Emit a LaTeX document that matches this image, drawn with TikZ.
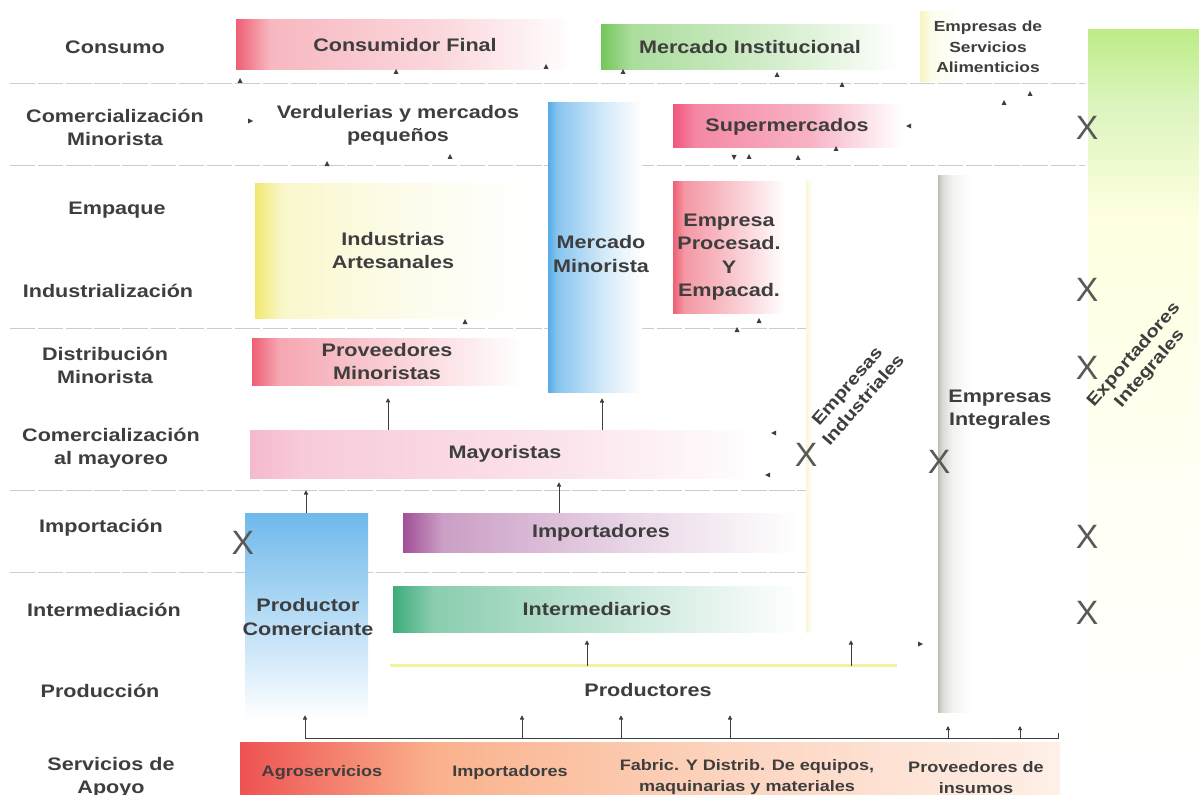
\documentclass[tikz,border=0pt]{standalone}
\usepackage{fontspec}
\setmainfont{Liberation Sans}[FakeStretch=1.19]
\newfontfamily\crossfont{Liberation Sans}
\usetikzlibrary{arrows.meta}

\definecolor{txt}{RGB}{62,62,62}
\definecolor{cRed}{RGB}{238,95,115}
\definecolor{cPink}{RGB}{240,85,125}
\definecolor{cGreen}{RGB}{115,198,90}
\definecolor{cYel}{RGB}{240,232,110}
\definecolor{cBlue}{RGB}{85,172,232}
\definecolor{cPurp}{RGB}{160,80,150}
\definecolor{cTeal}{RGB}{60,172,122}
\definecolor{cMay}{RGB}{245,185,205}
\definecolor{cApoyo}{RGB}{238,82,82}
\definecolor{cPeach}{RGB}{250,178,140}
\definecolor{cGray}{RGB}{175,175,162}
\definecolor{cExp}{RGB}{190,236,135}
\definecolor{cLine}{RGB}{242,242,160}

% fades from a strong left edge to white
\newcommand{\bandshade}[4]{%
  \pgfdeclarehorizontalshading{#1}{100bp}{color(0bp)=(#2); color(25bp)=(#2);
    color(30bp)=(#2!#3!white); color(55bp)=(#2!#4!white);
    color(75bp)=(white); color(100bp)=(white)}}
\bandshade{shconsfin}{cRed}{45}{25}
\bandshade{shmercinst}{cGreen}{60}{30}
\bandshade{shsupmer}{cPink}{70}{45}
\bandshade{shmercmin}{cBlue}{70}{25}
\bandshade{shindart}{cYel}{35}{12}
\bandshade{shempproc}{cRed}{65}{30}
\bandshade{shprovmin}{cRed}{55}{25}
\bandshade{shmayo}{cMay}{75}{40}
\bandshade{shimpo}{cPurp}{55}{22}
\bandshade{shinterm}{cTeal}{60}{25}
\pgfdeclarehorizontalshading{shservalim}{100bp}{color(0bp)=(cYel); color(25bp)=(cYel!45!white);
  color(29bp)=(cYel!15!white); color(40bp)=(white); color(100bp)=(white)}
\pgfdeclarehorizontalshading{shapoyo}{100bp}{color(0bp)=(cApoyo); color(25bp)=(cApoyo);
  color(37bp)=(cPeach); color(55bp)=(cPeach!55!white); color(75bp)=(cPeach!20!white);
  color(100bp)=(cPeach!20!white)}
\pgfdeclarehorizontalshading{shempint}{100bp}{color(0bp)=(cGray); color(25bp)=(cGray!80!white);
  color(26.5bp)=(cGray!45!white); color(30bp)=(cGray!15!white); color(36bp)=(white);
  color(100bp)=(white)}
\pgfdeclarehorizontalshading{shempind}{100bp}{color(0bp)=(cYel); color(25bp)=(cYel!30!white);
  color(26.5bp)=(cYel!10!white); color(28bp)=(white); color(100bp)=(white)}
\pgfdeclareverticalshading{shexport}{100bp}{color(0bp)=(white); color(25bp)=(white);
  color(45bp)=(yellow!5!white); color(62bp)=(yellow!12!white); color(70bp)=(cExp!55!white);
  color(75bp)=(cExp); color(100bp)=(cExp)}

\tikzset{
  lbl/.style={align=center, text=txt, font=\bfseries\fontsize{12.9}{16.4}\selectfont},
  small/.style={align=center, text=txt, font=\bfseries\fontsize{10.8}{15}\selectfont},
  slant/.style={align=center, text=txt, rotate=49, font=\bfseries\fontsize{12.2}{15}\selectfont},
  box/.style 2 args={lbl, inner sep=0pt, minimum width=#1*0.025cm, minimum height=#2*0.025cm},
  sep/.style={black!20, line width=0.6pt, dash pattern=on 18pt off 2pt},
  arr/.style={txt, line width=0.6pt, -{Triangle[length=3pt,width=3pt]}},
  cross/.style={inner sep=0pt, text=black!65, font=\crossfont\fontsize{24}{24}\selectfont},
  tri/.pic={\fill[txt] (-2.5,2) -- (2.5,2) -- (0,-3) -- cycle;}
}

\begin{document}
\begin{tikzpicture}[x=0.025cm, y=-0.025cm]
  \fill[white] (0,0) rectangle (1199,795);
  \useasboundingbox (0,0) rectangle (1199,795);

  % row separators
  \foreach \y in {83,165,328,490,572}
    \draw[sep] (10,\y) -- (1085,\y);

  % row labels
  \node[lbl] (rcons) at (115,47) {Consumo};
  \node[lbl] (rcomin) at (115,127) {Comercialización\\Minorista};
  \node[lbl] (remp) at (117,210) {Empaque};
  \node[lbl] (rind) at (108,291) {Industrialización};
  \node[lbl] (rdist) at (105,365) {Distribución\\Minorista};
  \node[lbl] (rcomay) at (111,448) {Comercialización\\al mayoreo};
  \node[lbl] (rimp) at (101,528) {Importación};
  \node[lbl] (rint) at (104,610) {Intermediación};
  \node[lbl] (rprod) at (100,691) {Producción};
  \node[lbl] (rserv) at (111,777) {Servicios de\\Apoyo};

  % columns
  \node[box={111}{730}, shading=shexport] (exportint) at (1143.5,395) {};
  \node[box={147}{537}, shading=shempint] (empint) at (1011.5,443.5) {};
  \node[box={129}{452}, shading=shempind] (empind) at (870.5,406) {};

  % boxes
  \node[box={338}{50}, shading=shconsfin] (consfin) at (405,45) {Consumidor Final};
  \node[box={298}{45}, shading=shmercinst] (mercinst) at (750,47.5) {Mercado Institucional};
  \node[box={136}{70}, shading=shservalim, small, font=\bfseries\fontsize{10.4}{14.6}\selectfont] (servalim) at (988,47) {Empresas de\\Servicios\\Alimenticios};
  \node[lbl] (verdul) at (398,125) {Verdulerias y mercados\\pequeños};
  \node[box={228}{43}, shading=shsupmer] (supmer) at (787,126.5) {Supermercados};
  \node[box={94}{289}, shading=shmercmin] (mercmin) at (595,247.5) {};
  \node[lbl] (mercmintxt) at (601,254) {Mercado\\Minorista};
  \node[box={276}{135}, shading=shindart] (indart) at (393,250.5) {Industrias\\Artesanales};
  \node[box={112}{132}, shading=shempproc] (empproc) at (729,247) {};
  \node[lbl, font=\bfseries\fontsize{12.9}{16.6}\selectfont] (empproctxt) at (729,257) {Empresa\\Procesad.\\Y\\Empacad.};
  \node[box={270}{47}, shading=shprovmin] (provmin) at (387,361.5) {Proveedores\\Minoristas};
  \node[box={510}{48}, shading=shmayo] (mayo) at (505,454) {Mayoristas};
  \node[box={123}{207}, top color=cBlue!85!white, middle color=cBlue!18!white, bottom color=white] (prodcom) at (306.5,616.5) {};
  \node[lbl] (prodcomtxt) at (308,617) {Productor\\Comerciante};
  \node[box={396}{39}, shading=shimpo] (impo) at (601,532.5) {Importadores};
  \node[box={408}{46}, shading=shinterm] (interm) at (597,609) {Intermediarios};
  \node[box={516}{49}] (prodtores) at (648,690.5) {Productores};
  \draw[cLine, line width=2pt] (prodtores.north west) -- (897,0 |- prodtores.north);
  \node[box={820}{58}, shading=shapoyo] (servapoyo) at (650,771) {};

  \node[slant] (empindtxt) at (855,393) {Empresas\\Industriales};
  \node[lbl] (empinttxt) at (1000,410) {Empresas\\Integrales};
  \node[slant] (exporttxt) at (1142,362) {Exportadores\\Integrales};

  % support services
  \node[small] (agro) at (322,773) {Agroservicios};
  \node[small] (impsrv) at (510,773) {Importadores};
  \node[small] (fabric) at (747,777) {Fabric. Y Distrib. De equipos,\\maquinarias y materiales};
  \node[small] (insumos) at (976,778) {Proveedores de\\insumos};

  % connectors
  \coordinate (busL) at (305,738);
  \coordinate (busR) at (1058,738);
  \draw[txt, line width=0.6pt] (busL) -- (busR) -- ++(0,-5);
  \foreach \x in {305,522,621,730}
    \draw[arr] (\x,0 |- busL) -- (\x,0 |- prodtores.south);
  \foreach \x in {948,1020}
    \draw[arr] (\x,0 |- busL) -- ++(0,-12);
  \foreach \x in {587,851}
    \draw[arr, shorten >=0.2cm] (\x,0 |- prodtores.north) -- (\x,0 |- interm.south);
  \draw[arr, shorten >=0.3cm] (306,0 |- prodcom.north) -- (306,0 |- mayo.south);
  \draw[arr, shorten >=0.1cm] (559,0 |- impo.north) -- (559,0 |- mayo.south);
  \draw[arr, shorten >=0.32cm] (388,0 |- mayo.north) -- (388,0 |- provmin.south);
  \draw[arr, shorten >=0.15cm] (602,0 |- mayo.north) -- (602,0 |- mercmin.south);

  % loose arrow tips
  \foreach \x/\y/\r in {240/81/0,396/72/0,546/67/0,623/72/0,777/75/0,842/85/0,
      327/164/0,450/157/0,749/157/0,798/158/0,836/149/0,1004/103/0,1030/94/0,
      465/322/0,759/321/0,737/330/0,734/157/180,909/126/90,774/433/90,768/475/90,
      250/121/-90,920/644/-90}
    \pic[rotate=\r] at (\x,\y) {tri};

  % excluded links
  \foreach \x/\y [count=\i] in {1087/128,1087/290,1087/368,1087/537,1087/613,806/455,939/462,243/543}
    \node[cross] (x\i) at (\x,\y) {X};
\end{tikzpicture}
\end{document}
